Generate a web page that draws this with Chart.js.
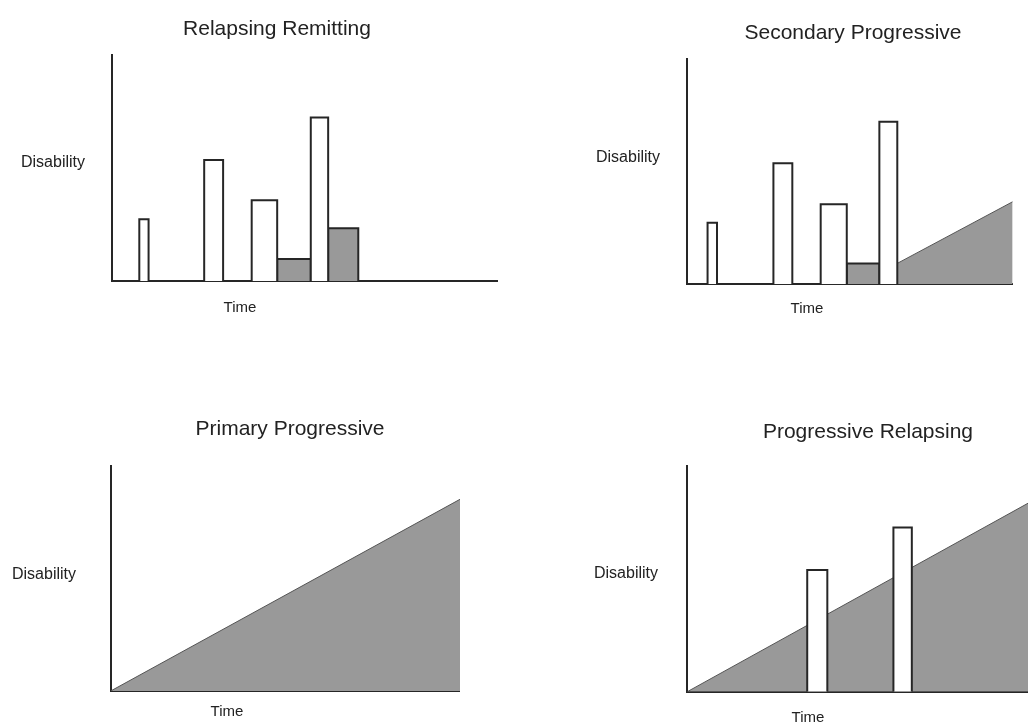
<!DOCTYPE html>
<html>
<head>
<meta charset="utf-8">
<script src="https://cdn.jsdelivr.net/npm/chart.js@4.4.1/dist/chart.umd.min.js"></script>
<style>
  html, body { margin: 0; padding: 0; background: #fff; }
  #page { position: relative; width: 1028px; height: 722px; overflow: hidden;
          font-family: "Liberation Sans", Arial, Helvetica, sans-serif; color: #222; }
  #page canvas { position: absolute; left: 0; top: 0; pointer-events: none; }
  .title { position: absolute; font-size: 21px; transform: translate(-50%, -50%); white-space: nowrap; }
  .ylab  { position: absolute; font-size: 16px; transform: translateY(-50%); white-space: nowrap; }
  .xlab  { position: absolute; font-size: 15px; transform: translate(-50%, -50%); white-space: nowrap; }
</style>
</head>
<body>
<div id="page"></div>
<script>
// titles and axis labels
const panelTitles = ['Relapsing Remitting', 'Secondary Progressive', 'Primary Progressive', 'Progressive Relapsing'];
const yLabel = 'Disability';
const xLabel = 'Time';

// bars are [start, end, height] on a 0-100 time / 0-100 disability scale
const rrRelapses = [[7.2, 9.6, 27.3], [24.0, 28.9, 53.5], [36.3, 42.9, 35.7], [51.6, 56.1, 72.4]];
const rrResidual = [[42.9, 51.6, 9.7], [56.1, 63.9, 23.3]];

const spRelapses = [[6.4, 9.3, 27.4], [26.6, 32.4, 53.8], [41.1, 49.1, 35.6], [59.1, 64.6, 72.3]];
const spResidual = [[49.1, 59.1, 9.3]];
const spProgressX = [64.6, 100];
const spProgressY = [9.3, 36.7];

const ppProgressX = [0, 100];
const ppProgressY = [0, 85.2];

const prRelapses = [[35.2, 41.1, 53.9], [60.5, 65.9, 72.7]];
const prProgressX = [0, 100];
const prProgressY = [0, 83.5];

const W = 1028, H = 722;
const INK = '#262626';
const GRAY = '#999999';

// layout of each panel (pixels) - plot area and label anchors
const panels = [
  { title: panelTitles[0], area: { left: 111.5, top: 55, right: 497.7, bottom: 281 },
    titleAt: [277, 28], yAt: [21, 162], xAt: [240, 306],
    relapses: rrRelapses, residual: rrResidual, progX: null, progY: null },
  { title: panelTitles[1], area: { left: 686.7, top: 59.3, right: 1012.7, bottom: 284.3 },
    titleAt: [853, 32], yAt: [596, 157], xAt: [807, 307],
    relapses: spRelapses, residual: spResidual, progX: spProgressX, progY: spProgressY },
  { title: panelTitles[2], area: { left: 110.7, top: 466, right: 460, bottom: 691 },
    titleAt: [290, 428], yAt: [12, 574], xAt: [227, 710],
    relapses: [], residual: [], progX: ppProgressX, progY: ppProgressY },
  { title: panelTitles[3], area: { left: 687.3, top: 466, right: 1028, bottom: 691.7 },
    titleAt: [868, 431], yAt: [594, 573], xAt: [808, 716],
    relapses: prRelapses, residual: [], progX: prProgressX, progY: prProgressY }
];

const page = document.getElementById('page');

function addText(cls, text, pos) {
  const d = document.createElement('div');
  d.className = cls;
  d.textContent = text;
  d.style.left = pos[0] + 'px';
  d.style.top = pos[1] + 'px';
  page.appendChild(d);
}

function rectPoints(bar) {
  const [s, e, h] = bar;
  return [{ x: s, y: 0 }, { x: s, y: h }, { x: e, y: h }, { x: e, y: 0 }];
}

function boxDataset(bar, fillColor, order) {
  return {
    data: rectPoints(bar),
    backgroundColor: fillColor,
    borderColor: INK,
    borderWidth: 2,
    fill: 'origin',
    order
  };
}

const axis = {
  type: 'linear', min: 0, max: 100, z: 1,
  grid: { display: false, drawTicks: false },
  ticks: { display: false },
  border: { display: true, color: INK, width: 2 }
};

panels.forEach(p => {
  const canvas = document.createElement('canvas');
  canvas.width = W;
  canvas.height = H;
  page.appendChild(canvas);

  const datasets = [];
  if (p.progX) {
    datasets.push({
      data: p.progX.map((x, i) => ({ x, y: p.progY[i] })),
      backgroundColor: GRAY,
      borderColor: '#555',
      borderWidth: 1,
      fill: 'origin',
      order: 3
    });
  }
  p.residual.forEach(b => datasets.push(boxDataset(b, GRAY, 2)));
  p.relapses.forEach(b => datasets.push(boxDataset(b, '#ffffff', 1)));

  new Chart(canvas.getContext('2d'), {
    type: 'line',
    data: { datasets },
    options: {
      responsive: false,
      animation: false,
      events: [],
      layout: {
        padding: { left: p.area.left, top: p.area.top, right: W - p.area.right, bottom: H - p.area.bottom }
      },
      elements: { point: { radius: 0 }, line: { tension: 0, borderJoinStyle: 'miter' } },
      plugins: { legend: { display: false }, tooltip: { enabled: false }, title: { display: false } },
      scales: { x: { ...axis }, y: { ...axis } }
    }
  });

  addText('title', p.title, p.titleAt);
  addText('ylab', yLabel, p.yAt);
  addText('xlab', xLabel, p.xAt);
});
</script>
</body>
</html>
